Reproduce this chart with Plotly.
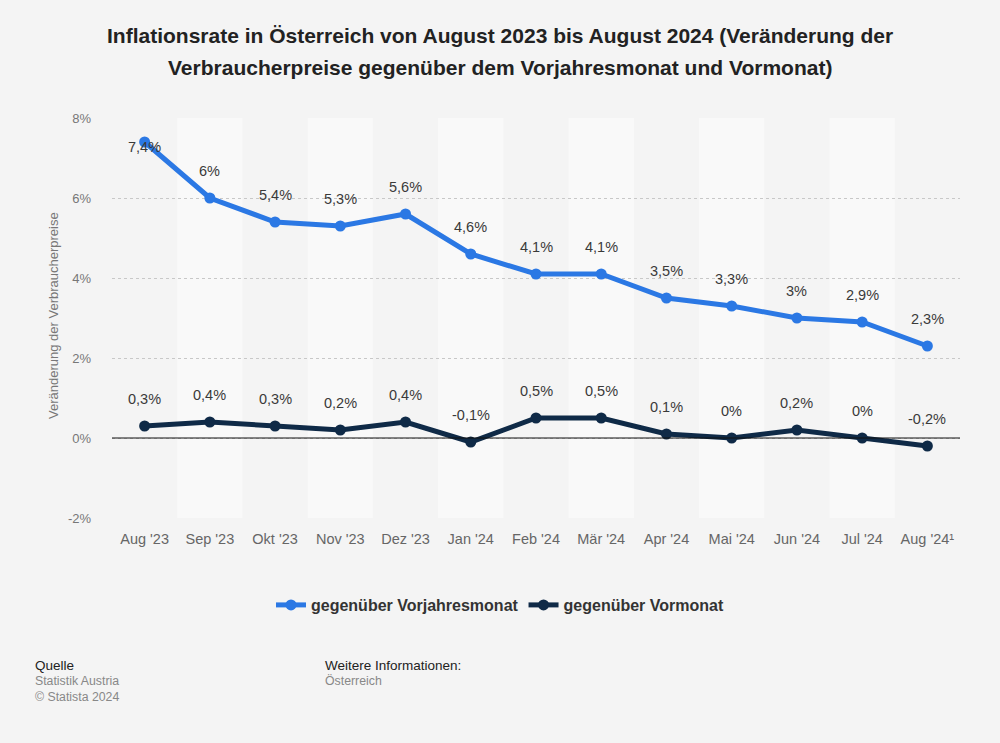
import plotly.graph_objects as go

months = ["Aug '23", "Sep '23", "Okt '23", "Nov '23", "Dez '23", "Jan '24", "Feb '24",
          "Mär '24", "Apr '24", "Mai '24", "Jun '24", "Jul '24", "Aug '24¹"]
vorjahr = [7.4, 6.0, 5.4, 5.3, 5.6, 4.6, 4.1, 4.1, 3.5, 3.3, 3.0, 2.9, 2.3]
vormonat = [0.3, 0.4, 0.3, 0.2, 0.4, -0.1, 0.5, 0.5, 0.1, 0.0, 0.2, 0.0, -0.2]
y_ticks = [-2, 0, 2, 4, 6, 8]
y_ticktext = ["-2%", "0%", "2%", "4%", "6%", "8%"]
name_vj = "gegenüber Vorjahresmonat"
name_vm = "gegenüber Vormonat"
blue = "#2b78e4"
navy = "#0f2a47"

L, R, T, B = 112, 960, 118, 518
W, H = R - L, B - T

def px(x):
    return (x - L) / W

def py(y):
    return (B - y) / H

def fmt(v):
    s = ("%.1f" % v).rstrip("0").rstrip(".")
    if s == "-0":
        s = "0"
    return s.replace(".", ",") + "%"

fig = go.Figure()
fig.add_trace(go.Scatter(x=list(range(len(months))), y=vorjahr, name=name_vj, mode="lines+markers",
                         line=dict(color=blue, width=5), marker=dict(size=11, color=blue)))
fig.add_trace(go.Scatter(x=list(range(len(months))), y=vormonat, name=name_vm, mode="lines+markers",
                         line=dict(color=navy, width=5), marker=dict(size=11, color=navy)))

shapes = []
for i in range(len(months)):
    if i % 2 == 1:
        shapes.append(dict(type="rect", xref="x", yref="paper", x0=i - 0.5, x1=i + 0.5, y0=0, y1=1,
                           fillcolor="#f9f9f9", line=dict(width=0), layer="below"))
shapes.append(dict(type="line", xref="paper", yref="y", x0=0, x1=1, y0=0, y1=0,
                   line=dict(color="#111111", width=1.2), layer="above"))

ann = []
lab_font = dict(size=14.5, color="#3a3a3a")
for i, v in enumerate(vorjahr):
    shift = 27 if i > 0 else -5
    ann.append(dict(x=i, y=v, xref="x", yref="y", text=fmt(v), showarrow=False, yshift=shift, font=lab_font))
for i, v in enumerate(vormonat):
    ann.append(dict(x=i, y=v, xref="x", yref="y", text=fmt(v), showarrow=False, yshift=27, font=lab_font))

title1 = "Inflationsrate in Österreich von August 2023 bis August 2024 (Veränderung der"
title2 = "Verbraucherpreise gegenüber dem Vorjahresmonat und Vormonat)"
tfont = dict(size=21, color="#222222")
ann.append(dict(x=px(500), y=py(35), xref="paper", yref="paper", text="<b>" + title1 + "</b>", showarrow=False,
                xanchor="center", yanchor="middle", font=tfont))
ann.append(dict(x=px(500), y=py(67), xref="paper", yref="paper", text="<b>" + title2 + "</b>", showarrow=False,
                xanchor="center", yanchor="middle", font=tfont))
ann.append(dict(x=px(53), y=py(316), xref="paper", yref="paper", text="Veränderung der Verbraucherpreise",
                showarrow=False, textangle=-90, xanchor="center", yanchor="middle",
                font=dict(size=13, color="#777777")))
hfont = dict(size=13.5, color="#222222")
sfont = dict(size=12.3, color="#888888")
ann.append(dict(x=px(33), y=py(665), xref="paper", yref="paper", text="Quelle", showarrow=False,
                xanchor="left", yanchor="middle", font=hfont))
ann.append(dict(x=px(33), y=py(681), xref="paper", yref="paper", text="Statistik Austria", showarrow=False,
                xanchor="left", yanchor="middle", font=sfont))
ann.append(dict(x=px(33), y=py(697), xref="paper", yref="paper", text="© Statista 2024", showarrow=False,
                xanchor="left", yanchor="middle", font=sfont))
ann.append(dict(x=px(323), y=py(665), xref="paper", yref="paper", text="Weitere Informationen:", showarrow=False,
                xanchor="left", yanchor="middle", font=hfont))
ann.append(dict(x=px(323), y=py(681), xref="paper", yref="paper", text="Österreich", showarrow=False,
                xanchor="left", yanchor="middle", font=sfont))

fig.update_layout(
    width=1000, height=743,
    margin=dict(l=L, r=1000 - R, t=T, b=743 - B),
    paper_bgcolor="#f4f4f4", plot_bgcolor="#f4f4f4",
    font=dict(family="Liberation Sans, Arial, sans-serif", color="#666666"),
    showlegend=True,
    legend=dict(orientation="h", x=px(500), xanchor="center", y=py(605), yanchor="middle",
                font=dict(size=16, color="#333333", weight="bold"), itemwidth=30,
                bgcolor="rgba(0,0,0,0)"),
    xaxis=dict(range=[-0.5, len(months) - 0.5], tickmode="array", tickvals=list(range(len(months))),
               ticktext=months, showgrid=False, zeroline=False, showline=False, ticks="",
               tickfont=dict(size=14.5, color="#666666"), ticklabelstandoff=10),
    yaxis=dict(range=[-2, 8], tickmode="array", tickvals=y_ticks, ticktext=y_ticktext, showgrid=True,
               gridcolor="#c8c8c8", griddash="dot", gridwidth=1, zeroline=False, showline=False,
               tickfont=dict(size=13, color="#777777"), ticklabelstandoff=20),
    shapes=shapes, annotations=ann,
)
fig.write_html("out.html")
